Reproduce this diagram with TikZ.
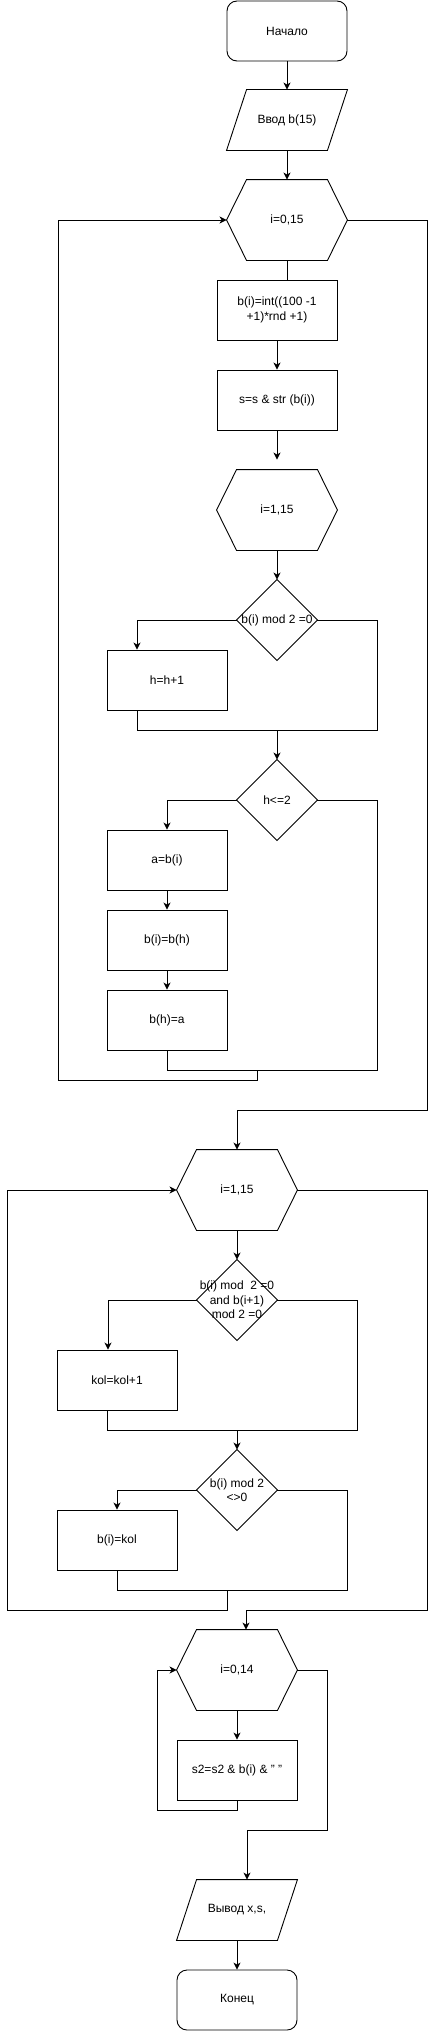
\documentclass[tikz,border=0pt]{standalone}
\usepackage{fontspec}
\setmainfont{Liberation Sans}
\usetikzlibrary{arrows.meta,positioning,calc}

\begin{document}
\begin{tikzpicture}[x=1pt, y=-1pt, line width=0.9pt,
    every node/.style={font=\fontsize{12}{14.5}\selectfont, align=center, inner sep=0pt},
    proc/.style={draw, minimum width=120pt, minimum height=60pt},
    term/.style={proc, rounded corners=10pt},
    io/.style={minimum width=120pt, minimum height=60pt},
    hexbox/.style={minimum width=120pt, minimum height=80pt},
    cond/.style={minimum width=80pt, minimum height=80pt},
    arr/.style={-{Stealth[length=7pt,width=7pt,inset=2pt]}}]
    \useasboundingbox (0,0) rectangle (436,2031);

    % Blocks
    \node[term] (start) at (287,31) {Начало};
    \node[io] (in) at (287,120) {Ввод b(15)};
    \node[hexbox] (c1) at (287,220) {i=0,15};
    \node[proc] (p1) at (277,310) {b(i)=int((100 -1\\+1)*rnd +1)};
    \node[proc] (p2) at (277,400) {s=s \& str (b(i))};
    \node[hexbox] (c2) at (277,510) {i=1,15};
    \node[cond] (d1) at (277,620) {b(i) mod 2 =0};
    \node[proc] (p3) at (167,680) {h=h+1};
    \node[cond] (d2) at (277,800) {h<=2};
    \node[proc] (p4) at (167,860) {a=b(i)};
    \node[proc] (p5) at (167,940) {b(i)=b(h)};
    \node[proc] (p6) at (167,1020) {b(h)=a};
    \node[hexbox] (c3) at (237,1190) {i=1,15};
    \node[cond] (d3) at (237,1300) {b(i) mod\ \ 2 =0\\and b(i+1)\\mod 2 =0};
    \node[proc] (p7) at (117,1380) {kol=kol+1};
    \node[cond] (d4) at (237,1490) {b(i) mod 2\\<>0};
    \node[proc] (p8) at (117,1540) {b(i)=kol};
    \node[hexbox] (c4) at (237,1670) {i=0,14};
    \node[proc] (p9) at (237,1770) {s2=s2 \& b(i) \& " "};
    \node[io] (out) at (237,1910) {Вывод x,s,};
    \node[term] (stop) at (237,2000) {Конец};

    % Outlines
    \foreach \n in {c1,c2,c3,c4}
        \draw (\n.west) -- ([xshift=20pt]\n.north west) -- ([xshift=-20pt]\n.north east)
            -- (\n.east) -- ([xshift=-20pt]\n.south east) -- ([xshift=20pt]\n.south west) -- cycle;
    \foreach \n in {d1,d2,d3,d4}
        \draw (\n.north) -- (\n.east) -- (\n.south) -- (\n.west) -- cycle;
    \foreach \n in {in,out}
        \draw (\n.south west) -- ([xshift=20pt]\n.north west) -- (\n.north east)
            -- ([xshift=-20pt]\n.south east) -- cycle;

    % Corner points
    \coordinate (j1) at (377,730);
    \coordinate (j2) at (377,1070);
    \coordinate (l1) at (58,1080);
    \coordinate (r1) at (427,1110);
    \coordinate (j3) at (357,1430);
    \coordinate (j4) at (347,1590);
    \coordinate (l2) at (7,1610);
    \coordinate (r2) at (427,1610);
    \coordinate (l3) at (157,1810);
    \coordinate (r3) at (327,1830);

    % First loop
    \draw[arr] (start) -- (in);
    \draw[arr] (in) -- (c1);
    \draw (c1.south) -- (c1.south |- p1.north);
    \draw[arr] (p1) -- (p2);
    \draw[arr] (p2.south) -- ([yshift=10pt]c2.north);
    \draw[arr] (c2) -- (d1);
    \draw[arr] (d1.west) -| ([xshift=-30pt]p3.north);
    \draw ([xshift=-30pt]p3.south) |- (j1) |- (d1.east);
    \draw[arr] (d2.north |- j1) -- (d2.north);
    \draw[arr] (d2.west) -| (p4.north);
    \draw[arr] (p4) -- (p5);
    \draw[arr] (p5) -- (p6);
    \draw (p6.south) |- (j2) |- (d2.east);
    \draw[arr] (257,1070) |- (l1) |- (c1.west);
    \draw[arr] (c1.east) -| (r1) -| (c3.north);

    % Second loop
    \draw[arr] (c3) -- (d3);
    \draw[arr] (d3.west) -| ([xshift=-9pt]p7.north);
    \draw ([xshift=-10pt]p7.south) |- (j3) |- (d3.east);
    \draw[arr] (d4.north |- j3) -- (d4.north);
    \draw[arr] (d4.west) -| (p8.north);
    \draw (p8.south) |- (j4) |- (d4.east);
    \draw[arr] (227,1590) |- (l2) |- (c3.west);
    \draw[arr] (c3.east) -| (r2) -| ([xshift=9pt]c4.north);

    % Third loop
    \draw[arr] (c4) -- (p9);
    \draw[arr] (p9.south) |- (l3) |- (c4.west);
    \draw[arr] (c4.east) -| (r3) -| ([xshift=10pt]out.north);
    \draw[arr] (out) -- (stop);
\end{tikzpicture}
\end{document}
